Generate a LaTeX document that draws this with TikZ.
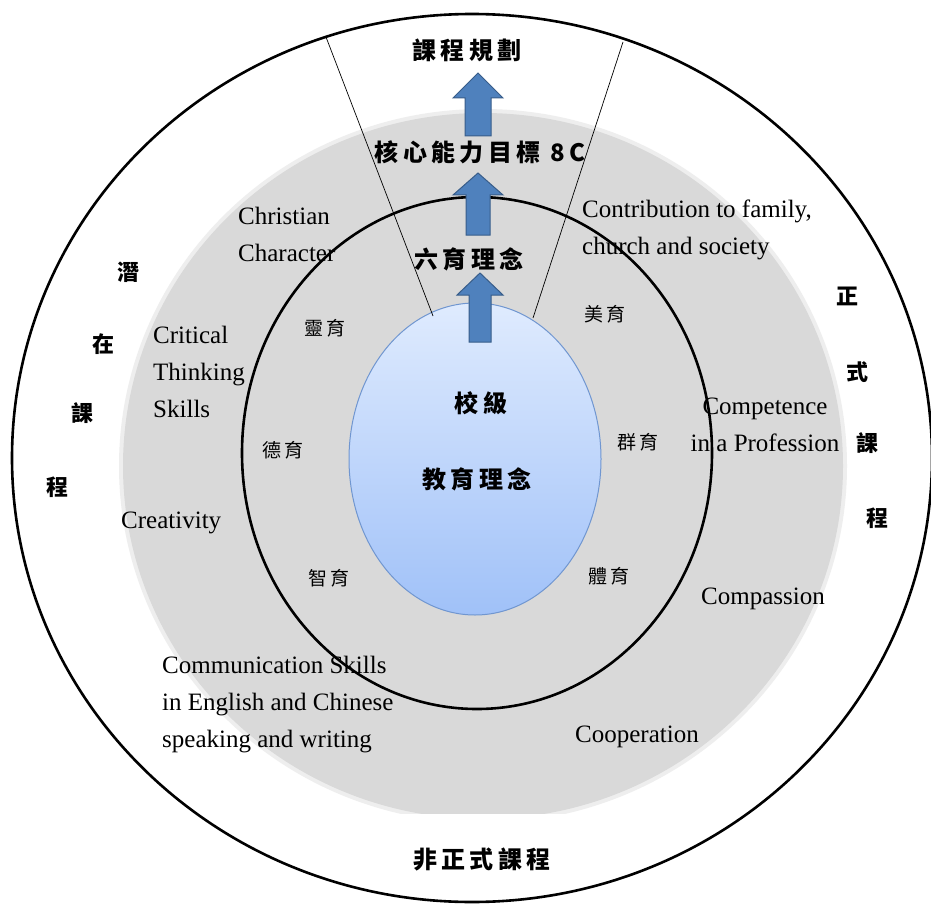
\documentclass[tikz,border=0pt]{standalone}
\usepackage{fontspec}
\setmainfont{Liberation Serif}
\newfontfamily\cjk{Noto Sans CJK TC}[LetterSpace=18]
\usetikzlibrary{positioning,shapes.geometric}

\definecolor{ringgray}{RGB}{217,217,217}
\definecolor{ringedge}{RGB}{238,238,238}
\definecolor{arrowblue}{RGB}{79,129,189}
\definecolor{arrowedge}{RGB}{56,93,138}
\definecolor{coretop}{RGB}{223,235,254}
\definecolor{corebot}{RGB}{160,193,248}
\definecolor{coreedge}{RGB}{112,150,208}

% block arrow: x, tip, neck, bottom, half shaft, half head
\newcommand{\upblock}[6]{\draw[blockarrow] (#1-#5,#4) -- (#1-#5,#3) -- (#1-#6,#3) -- (#1,#2) -- (#1+#6,#3) -- (#1+#5,#3) -- (#1+#5,#4) -- cycle;}

\begin{document}
\begin{tikzpicture}[x=1pt,y=-1pt,
	eng/.style={font=\fontsize{25}{37}\selectfont,align=left,inner sep=0pt,anchor=west,yshift=-2pt},
	sixlbl/.style={font=\cjk\fontsize{19}{19}\selectfont,inner sep=0pt},
	title/.style={font=\cjk\bfseries\fontsize{24}{24}\selectfont,inner sep=0pt},
	side/.style={font=\cjk\bfseries\fontsize{22}{22}\selectfont,inner sep=0pt},
	ring/.style={draw=black,line width=2.6pt},
	spoke/.style={draw=black,line width=0.7pt},
	core/.style={ellipse,minimum width=252pt,minimum height=312pt,inner sep=0pt,
		draw=coreedge,line width=1pt,top color=coretop,bottom color=corebot},
	blockarrow/.style={fill=arrowblue,draw=arrowedge,line width=1pt}]
	\useasboundingbox (0,0) rectangle (931,904);
	\clip (0,0) rectangle (931,904);
	\fill[white] (0,0) rectangle (931,904);

	% grey band
	\begin{scope}
		\clip (0,0) rectangle (931,813);
		\fill[ringedge] (483,466) ellipse [x radius=364, y radius=357];
		\fill[ringgray] (483,466) ellipse [x radius=360, y radius=353];
	\end{scope}

	\draw[ring] (472,458) ellipse [x radius=460, y radius=444];
	\draw[ring] (477,453) ellipse [x radius=235, y radius=256];

	\node[core]	(school)	at (475,459) {};

	\coordinate (lt) at (326,37);
	\coordinate (lb) at (433,316);
	\coordinate (rt) at (623,42);
	\coordinate (rb) at (533,318);
	\draw[spoke] (lt) -- (lb);
	\draw[spoke] (rt) -- (rb);

	\upblock{478}{73}{98}{136}{13}{25}
	\upblock{478}{173}{195}{235}{12}{25}
	\upblock{480}{273}{295}{342}{11}{23}

	\node[title]	(plan)		at (467,50)		{課程規劃};
	\node[title]	(goal)		at (480,152)	{核心能力目標 8C};
	\node[title]	(six)		at (469,259)	{六育理念};
	\node[title]	(level)		at (481,403)	{校級};
	\node[title]	(edu)		at (477,479)	{教育理念};
	\node[title]	(informal)	at (482,859)	{非正式課程};

	\node[sixlbl]	(spirit)	at (325,328)	{靈育};
	\node[sixlbl]	(moral)		at (283,450)	{德育};
	\node[sixlbl]	(intel)		at (329,578)	{智育};
	\node[sixlbl]	(arts)		at (605,314)	{美育};
	\node[sixlbl]	(social)	at (638,442)	{群育};
	\node[sixlbl]	(phys)		at (609,576)	{體育};

	\node[eng]	(christ)	at (238,232)	{Christian\\Character};
	\node[eng]	(critical)	at (153,370)	{Critical\\Thinking\\Skills};
	\node[eng]	(creative)	at (121,521)	{Creativity};
	\node[eng]	(comm)		at (162,703)	{Communication Skills\\in English and Chinese\\speaking and writing};
	\node[eng]	(contrib)	at (582,228)	{Contribution to family,\\church and society};
	\node[eng,anchor=center,align=center]	(compet)	at (765,423)	{Competence\\in a Profession};
	\node[eng]	(compass)	at (701,597)	{Compassion};
	\node[eng]	(coop)		at (575,735)	{Cooperation};

	\node[side]	(lat1)	at (128,272)	{潛};
	\node[side]	(lat2)	at (103,344)	{在};
	\node[side]	(lat3)	at (82,413)		{課};
	\node[side]	(lat4)	at (57,487)		{程};
	\node[side]	(form1)	at (847,296)	{正};
	\node[side]	(form2)	at (857,372)	{式};
	\node[side]	(form3)	at (867,443)	{課};
	\node[side]	(form4)	at (877,518)	{程};
\end{tikzpicture}
\end{document}
